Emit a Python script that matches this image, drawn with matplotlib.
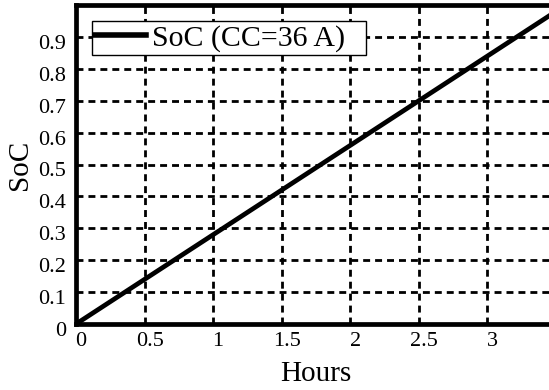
import numpy as np
import matplotlib
matplotlib.use("Agg")
import matplotlib.pyplot as plt
from matplotlib.transforms import ScaledTranslation

# SoC under constant-current charge
hours = [0.0, 0.5, 1.0, 1.5, 2.0, 2.5, 3.0, 3.5]
soc = [0.0, 0.14, 0.28, 0.42, 0.56, 0.70, 0.84, 0.98]
xticks = [0, 0.5, 1, 1.5, 2, 2.5, 3]
xtick_labels = ["0", "0.5", "1", "1.5", "2", "2.5", "3"]
yticks = [0, 0.1, 0.2, 0.3, 0.4, 0.5, 0.6, 0.7, 0.8, 0.9]
ytick_labels = ["0", "0.1", "0.2", "0.3", "0.4", "0.5", "0.6", "0.7", "0.8", "0.9"]

plt.rcParams["font.family"] = ["Liberation Serif", "DejaVu Serif"]

fig = plt.figure(figsize=(5.49, 3.90), dpi=100)
ax = fig.add_axes([76 / 549, 1 - 324 / 390, 480 / 549, 319 / 390])

ax.plot(hours, soc, color="black", lw=3.4, label="SoC (CC=36 A)\u2009\u2009\u2009")

ax.set_xlim(0, 3.5)
ax.set_ylim(0, 1.0)
ax.set_xticks(xticks)
ax.set_xticklabels(xtick_labels)
ax.set_yticks(yticks)
ax.set_yticklabels(ytick_labels)
ax.tick_params(axis="x", length=0, labelsize=16, pad=6)
ax.tick_params(axis="y", length=0, labelsize=16, pad=7)

# labels in the original sit a few pixels right / below their ticks
for lab in ax.get_xticklabels():
    lab.set_transform(lab.get_transform() + ScaledTranslation(0.05, 0, fig.dpi_scale_trans))
for lab in ax.get_yticklabels():
    lab.set_transform(lab.get_transform() + ScaledTranslation(0, -0.05, fig.dpi_scale_trans))

ax.grid(True, color="black", lw=2.0, linestyle=(0, (2.5, 1.8)))
for s in ax.spines.values():
    s.set_linewidth(3.4)

ax.set_xlabel("Hours", fontsize=21, labelpad=7)
ax.set_ylabel("SoC", fontsize=21, labelpad=4)

leg = ax.legend(loc="upper left", fontsize=21.5, fancybox=False, framealpha=1,
                edgecolor="black", handlelength=1.7, handletextpad=0.2,
                borderpad=0.1, borderaxespad=0.55)
leg.get_frame().set_linewidth(1.0)
leg.get_lines()[0].set_linewidth(4)

fig.savefig("out.png", dpi=100)
